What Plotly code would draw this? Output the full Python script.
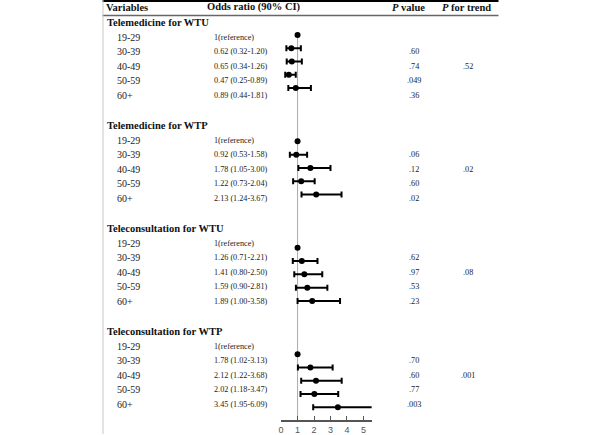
import plotly.graph_objects as go

# ---------------- data ----------------
groups = ["Telemedicine for WTU", "Telemedicine for WTP",
          "Teleconsultation for WTU", "Teleconsultation for WTP"]
ages = ["19-29", "30-39", "40-49", "50-59", "60+"]

or_wtu_tm = [1, 0.62, 0.65, 0.47, 0.89]
lo_wtu_tm = [None, 0.32, 0.34, 0.25, 0.44]
hi_wtu_tm = [None, 1.20, 1.26, 0.89, 1.81]
p_wtu_tm = [None, ".60", ".74", ".049", ".36"]

or_wtp_tm = [1, 0.92, 1.78, 1.22, 2.13]
lo_wtp_tm = [None, 0.53, 1.05, 0.73, 1.24]
hi_wtp_tm = [None, 1.58, 3.00, 2.04, 3.67]
p_wtp_tm = [None, ".06", ".12", ".60", ".02"]

or_wtu_tc = [1, 1.26, 1.41, 1.59, 1.89]
lo_wtu_tc = [None, 0.71, 0.80, 0.90, 1.00]
hi_wtu_tc = [None, 2.21, 2.50, 2.81, 3.58]
p_wtu_tc = [None, ".62", ".97", ".53", ".23"]

or_wtp_tc = [1, 1.78, 2.12, 2.02, 3.45]
lo_wtp_tc = [None, 1.02, 1.22, 1.18, 1.95]
hi_wtp_tc = [None, 3.13, 3.68, 3.47, 6.09]
p_wtp_tc = [None, ".70", ".60", ".77", ".003"]

p_trend = [".52", ".02", ".08", ".001"]
x_ticks = [0, 1, 2, 3, 4, 5]

ors = [or_wtu_tm, or_wtp_tm, or_wtu_tc, or_wtp_tc]
los = [lo_wtu_tm, lo_wtp_tm, lo_wtu_tc, lo_wtp_tc]
his = [hi_wtu_tm, hi_wtp_tm, hi_wtu_tc, hi_wtp_tc]
pvs = [p_wtu_tm, p_wtp_tm, p_wtu_tc, p_wtp_tc]

# ---------------- layout helpers (pixel positions) ----------------
W, H = 600, 435
AX_Y = 421
SERIF = "Liberation Serif"


def header_y(g):
    return 22.75 + 103.3 * g


def text_y(g, k):
    return header_y(g) + 14.5 * (k + 1)


def point_y(g, k):
    return 35 + 106.7 * g + 13.3 * k


def px(x):
    return x / W


fig = go.Figure()

ex, ey, em, ep = [], [], [], []
rx, ry = [], []
annotations = []

for g in range(4):
    annotations.append(dict(x=px(103), y=header_y(g), text="<b>" + groups[g] + "</b>",
                            font=dict(size=10.5, color="#111", family=SERIF)))
    for k, age in enumerate(ages):
        o, lo, hi = ors[g][k], los[g][k], his[g][k]
        ty = text_y(g, k)
        annotations.append(dict(x=px(113), y=ty, text=age,
                                font=dict(size=10, color="#222", family=SERIF)))
        if lo is None:
            ci = "1(reference)"
            rx.append(o)
            ry.append(point_y(g, k))
        else:
            ci = f"{o:.2f} ({lo:.2f}-{hi:.2f})"
            ex.append(o)
            ey.append(point_y(g, k))
            em.append(o - lo)
            ep.append(hi - o)
        annotations.append(dict(x=px(210.5), y=ty, text=ci,
                                font=dict(size=8.2, color="#222", family=SERIF)))
        if pvs[g][k]:
            annotations.append(dict(x=px(413.5), y=ty, text=pvs[g][k], xanchor="center",
                                    font=dict(size=8.2, color="#222", family=SERIF)))
    annotations.append(dict(x=px(467.5), y=text_y(g, 2), text=p_trend[g], xanchor="center",
                            font=dict(size=8.2, color="#222", family=SERIF)))

# header row
for hx, ht in [(102, "<b>Variables</b>"), (203, "<b>Odds ratio (90% CI)</b>"),
               (389, "<b><i>P</i> value</b>"), (439, "<b><i>P</i> for trend</b>")]:
    annotations.append(dict(x=px(hx), y=7.5, text=ht,
                            font=dict(size=10.5, color="#111", family=SERIF)))

for a in annotations:
    a.setdefault("xanchor", "left")
    a.update(xref="paper", yref="y", yanchor="middle", showarrow=False)

fig.add_trace(go.Scatter(
    x=ex, y=ey, mode="markers",
    marker=dict(color="black", size=6),
    error_x=dict(type="data", symmetric=False, array=ep, arrayminus=em,
                 color="black", thickness=2, width=3),
    cliponaxis=True, showlegend=False, hoverinfo="skip"))
fig.add_trace(go.Scatter(
    x=rx, y=ry, mode="markers", marker=dict(color="black", size=6),
    showlegend=False, hoverinfo="skip"))

shapes = [
    dict(type="line", xref="paper", yref="y", x0=px(100), x1=px(498), y0=1, y1=1,
         line=dict(color="black", width=2)),
    dict(type="line", xref="paper", yref="y", x0=px(100), x1=px(498), y0=15.5, y1=15.5,
         line=dict(color="#666", width=1.5)),
    dict(type="line", xref="paper", yref="paper", x0=px(100.5), x1=px(100.5), y0=0, y1=1,
         line=dict(color="#c8c8c8", width=1)),
    dict(type="line", xref="x", yref="y", x0=1, x1=1, y0=33, y1=AX_Y,
         line=dict(color="#aaa", width=1), layer="below"),
]

fig.update_layout(
    width=W, height=H,
    margin=dict(l=0, r=0, t=0, b=0),
    paper_bgcolor="white", plot_bgcolor="white",
    xaxis=dict(domain=[px(279.5), px(370.5)], range=[0, 5.5],
               showline=True, linecolor="#555", linewidth=1.5,
               ticks="inside", ticklen=4, tickcolor="#555", tickwidth=1.2,
               tickvals=x_ticks, tickfont=dict(size=9, color="#555", family="Liberation Sans"),
               showgrid=False, zeroline=False, fixedrange=True),
    yaxis=dict(domain=[(H - AX_Y) / H, 1], range=[AX_Y, 0], visible=False,
               showgrid=False, zeroline=False, fixedrange=True),
    annotations=annotations,
    shapes=shapes,
)

fig.write_html("out.html")
